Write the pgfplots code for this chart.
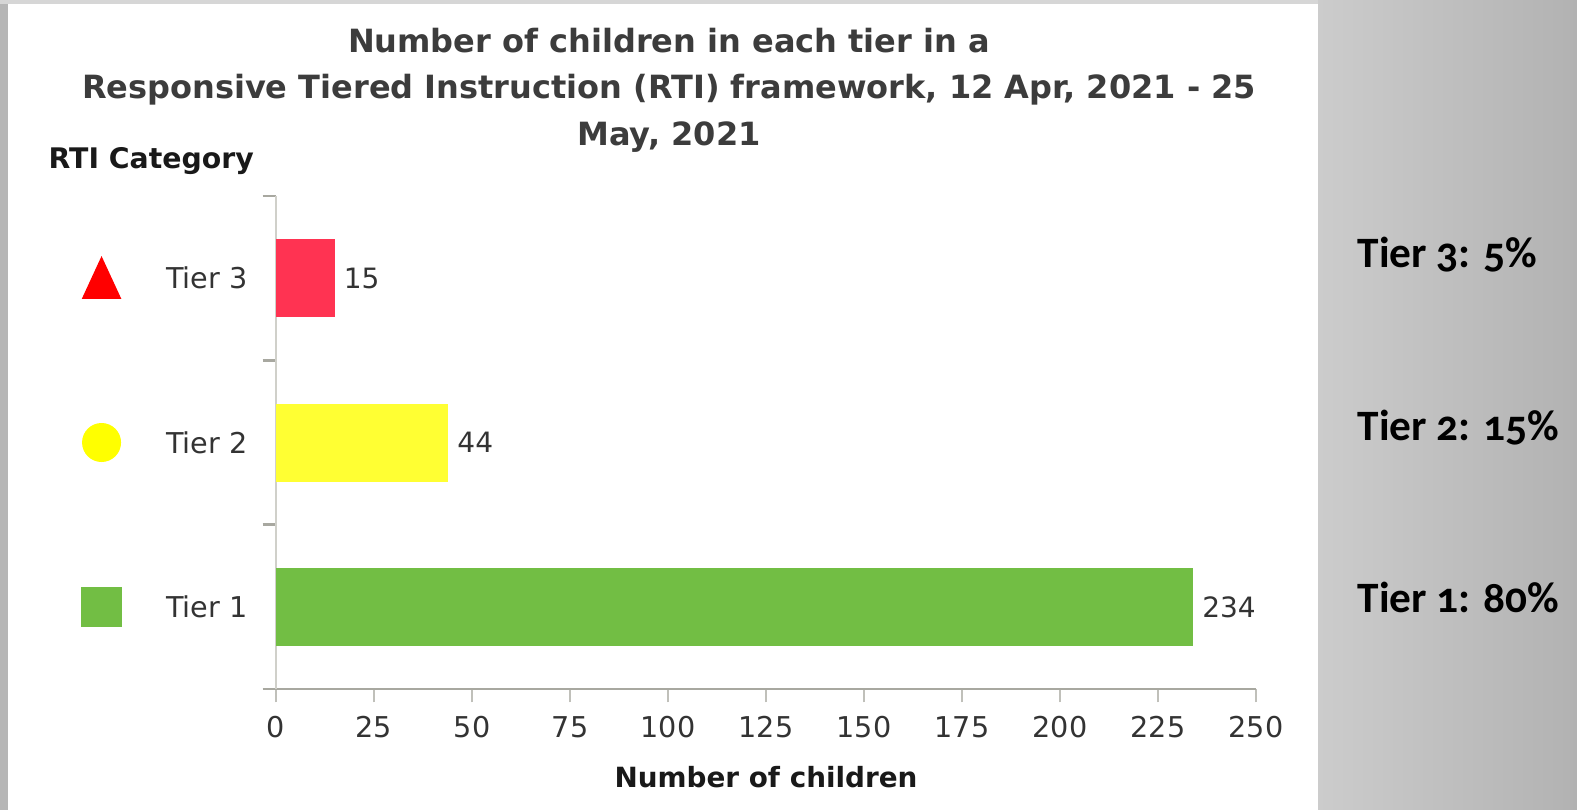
\documentclass[border=0pt]{standalone}
\usepackage{pgfplots}
\pgfplotsset{compat=1.18}
\usepackage{fontspec}
\setmainfont{DejaVu Sans}
\newfontfamily\rfont[Numbers=OldStyle]{Carlito}
\definecolor{barred}{HTML}{FF3352}
\definecolor{baryellow}{HTML}{FFFF33}
\definecolor{bargreen}{HTML}{72BE44}
\definecolor{mkred}{HTML}{FF0000}
\definecolor{mkyellow}{HTML}{FFFF00}
\definecolor{xaxisgray}{HTML}{A8A8A0}
\definecolor{yaxisgray}{HTML}{D0D0CA}
\definecolor{xtickgray}{HTML}{C0C0BA}
\definecolor{ticktext}{HTML}{333333}
\definecolor{titlegray}{HTML}{3C3C3C}
\pgfplotsset{/pgf/number format/assume math mode=true}
\begin{document}
\begin{tikzpicture}
\useasboundingbox (0,0) rectangle (473.1pt,-243pt);
\fill[color={rgb,255:red,182;green,182;blue,182}] (0,0) rectangle (473.1pt,-243pt);
\shade[left color={rgb,255:red,204;green,204;blue,204}, right color={rgb,255:red,178;green,178;blue,178}] (395.4pt,0) rectangle (473.1pt,-243pt);
\fill[color={rgb,255:red,214;green,214;blue,214}] (0,0) rectangle (395.4pt,-1.2pt);
\fill[white] (2.4pt,-1.2pt) rectangle (395.4pt,-243pt);
\node[font=\bfseries\fontsize{9.6}{14}\selectfont, text=titlegray, align=center] at (200.7pt,-27pt)
  {Number of children in each tier in a\\Responsive Tiered Instruction (RTI) framework, 12 Apr, 2021 - 25\\May, 2021};
\node[anchor=west, inner sep=0pt, font=\bfseries\fontsize{8.5}{10}\selectfont, text=black!90] at (14.4pt,-48.3pt) {RTI Category};
\begin{axis}[
  at={(82.8pt,-206.7pt)}, anchor=south west,
  scale only axis, width=294pt, height=147.9pt,
  xmin=0, xmax=250, ymin=-0.5, ymax=2.5,
  xbar, bar shift=0pt, bar width=23.4pt,
  clip=false,
  axis x line=bottom, axis y line=left,
  x axis line style={-, draw=xaxisgray, line width=0.8pt},
  y axis line style={-, draw=yaxisgray, line width=0.8pt},
  tick align=outside, major tick length=4pt,
  xtick={0,25,...,250}, xtick pos=bottom, ytick pos=left,
  xtick style={draw=xtickgray, line width=0.8pt},
  ytick style={draw=xaxisgray, line width=0.8pt},
  ytick={-0.5,0.5,1.5,2.5}, yticklabels={,,,},
  extra y ticks={0,1,2},
  extra y tick labels={Tier 1,Tier 2,Tier 3},
  extra y tick style={ytick style={draw=none}},
  tick label style={font=\fontsize{8.6}{10}\selectfont, text=ticktext},
  xticklabel style={anchor=north, inner sep=0pt, yshift=-4pt},
  yticklabel style={anchor=east, inner sep=0pt, xshift=-4.3pt},
  xlabel={Number of children},
  xlabel style={at={(axis description cs:0.5,0)}, anchor=center, yshift=-26.4pt, font=\bfseries\fontsize{8.35}{10}\selectfont, text=black!90},
  nodes near coords,
  nodes near coords style={anchor=west, inner sep=0pt, xshift=2.5pt, font=\fontsize{8.4}{10}\selectfont, text=ticktext},
]
\addplot[draw=none, fill=bargreen] coordinates {(234,0)};
\addplot[draw=none, fill=baryellow] coordinates {(44,1)};
\addplot[draw=none, fill=barred] coordinates {(15,2)};
\addplot[only marks, color=mkred, nodes near coords={}, mark=triangle*, mark size=6.5pt, mark options={yscale=1.25, fill=mkred, draw=mkred}] coordinates {(-44.5,1.96)};
\addplot[only marks, color=mkyellow, nodes near coords={}, mark=*, mark size=5.65pt, mark options={fill=mkyellow, draw=mkyellow}] coordinates {(-44.5,1)};
\addplot[only marks, color=bargreen, nodes near coords={}, mark=square*, mark size=5.85pt, mark options={fill=bargreen, draw=bargreen, rounded corners=1pt}] coordinates {(-44.5,0)};
\end{axis}
\node[anchor=base west, inner sep=0pt, font=\rfont\bfseries\fontsize{13}{15}\selectfont] at (407.1pt,-80.4pt) {Tier 3: 5\%};
\node[anchor=base west, inner sep=0pt, font=\rfont\bfseries\fontsize{13}{15}\selectfont] at (407.1pt,-132.3pt) {Tier 2: 15\%};
\node[anchor=base west, inner sep=0pt, font=\rfont\bfseries\fontsize{13}{15}\selectfont] at (407.1pt,-183.6pt) {Tier 1: 80\%};
\end{tikzpicture}
\end{document}
